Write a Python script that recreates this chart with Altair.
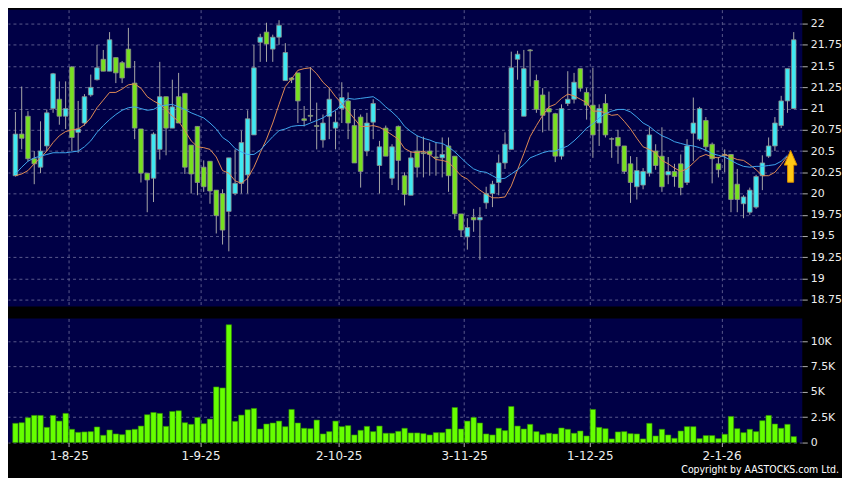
import altair as alt
import pandas as pd

# ---------------- data ----------------
month_starts = [9, 30, 52, 72, 92, 113]
month_labels = ["1-8-25", "1-9-25", "2-10-25", "3-11-25", "1-12-25", "2-1-26"]

open_ = [20.21, 20.70, 20.91, 20.41, 20.31, 20.56, 21.00, 21.11, 20.91, 21.49,
         20.72, 20.83, 21.16, 21.34, 21.58, 21.44, 21.60, 21.54, 21.70, 21.30,
         20.76, 20.24, 20.18, 20.52, 21.14, 20.77, 21.14, 21.18, 20.57, 20.79,
         20.31, 20.38, 20.04, 20.00, 19.79, 20.00, 20.12, 20.22, 20.69, 21.78,
         21.90, 21.70, 21.84, 21.33, 21.36, 21.42, 20.88, 20.92, 20.80, 20.63,
         20.91, 20.77, 21.00, 21.09, 20.80, 20.90, 20.50, 20.84, 20.33, 20.77,
         20.18, 20.79, 20.21, 19.98, 20.50, 20.48, 20.50, 20.43, 20.42, 20.56,
         20.44, 19.76, 19.49, 19.72, 19.69, 19.89, 20.00, 20.13, 20.36, 20.52,
         21.58, 20.91, 21.69, 21.33, 21.16, 21.00, 20.94, 20.44, 21.06, 21.11,
         21.47, 21.19, 21.04, 20.83, 21.06, 20.645, 20.66, 20.56, 20.35, 20.08,
         20.10, 20.24, 20.50, 20.44, 20.22, 20.26, 20.35, 20.13, 20.71, 20.64,
         20.86, 20.58, 20.35, 20.46, 20.46, 20.11, 19.88, 19.78, 19.84, 20.21,
         20.44, 20.56, 20.80, 21.09, 21.00]
high = [20.96, 21.26, 20.97, 20.50, 20.85, 20.99, 21.42, 21.32, 21.32, 21.50,
        21.09, 21.17, 21.40, 21.75, 21.69, 21.90, 21.60, 21.56, 21.95, 21.56,
        20.76, 20.24, 20.72, 21.55, 21.14, 21.34, 21.42, 21.18, 20.57, 20.79,
        20.39, 20.38, 20.04, 20.05, 20.42, 20.52, 20.74, 20.98, 21.75, 21.88,
        22.01, 21.87, 22.04, 21.77, 21.37, 21.42, 21.03, 21.49, 21.07, 20.93,
        21.24, 20.97, 21.31, 21.19, 20.99, 20.93, 20.95, 21.11, 20.62, 20.80,
        20.58, 20.80, 20.25, 20.50, 20.68, 20.67, 20.60, 20.60, 20.66, 20.66,
        20.44, 19.76, 19.71, 19.82, 19.84, 20.08, 20.15, 20.46, 20.72, 21.67,
        21.68, 21.69, 21.70, 21.40, 21.24, 21.20, 20.95, 21.05, 21.44, 21.42,
        21.47, 21.24, 21.48, 21.05, 21.17, 20.66, 20.75, 20.56, 20.44, 20.43,
        20.30, 20.78, 20.58, 20.78, 20.43, 20.35, 20.46, 20.64, 21.13, 21.02,
        20.90, 20.60, 20.43, 20.52, 20.46, 20.29, 19.98, 20.07, 20.22, 20.45,
        20.66, 20.90, 21.15, 21.47, 21.90]
low = [20.20, 20.52, 20.38, 20.11, 20.24, 20.50, 20.95, 20.81, 20.76, 20.50,
       20.48, 20.80, 21.14, 21.33, 21.44, 21.44, 21.30, 21.30, 21.48, 20.64,
       20.13, 19.78, 19.90, 20.40, 20.45, 20.77, 20.83, 20.23, 20.00, 19.98,
       20.02, 19.88, 19.53, 19.40, 19.32, 19.98, 20.00, 20.00, 20.69, 21.55,
       21.55, 21.55, 21.75, 21.33, 21.30, 20.83, 20.79, 20.85, 20.52, 20.54,
       20.64, 20.52, 20.83, 20.64, 20.36, 20.07, 20.44, 20.64, 20.00, 20.44,
       20.10, 20.04, 19.86, 19.98, 20.19, 20.19, 20.21, 20.21, 20.19, 20.02,
       19.70, 19.49, 19.34, 19.55, 19.22, 19.82, 19.84, 19.98, 20.29, 20.52,
       21.34, 20.91, 21.26, 20.95, 20.72, 20.74, 20.37, 20.40, 21.03, 21.06,
       21.20, 20.87, 20.42, 20.56, 20.66, 20.42, 20.35, 20.23, 19.89, 19.93,
       20.05, 20.20, 20.28, 20.02, 20.11, 20.08, 19.98, 20.10, 20.38, 20.62,
       20.50, 20.12, 20.19, 20.25, 19.78, 19.78, 19.71, 19.75, 19.82, 20.04,
       20.42, 20.50, 20.77, 20.95, 21.00]
close = [20.70, 20.65, 20.41, 20.35, 20.50, 20.95, 21.41, 20.91, 21.00, 20.66,
         20.76, 21.14, 21.25, 21.48, 21.44, 21.81, 21.42, 21.36, 21.48, 20.77,
         20.24, 20.16, 20.70, 21.14, 20.77, 21.02, 20.83, 20.31, 20.23, 20.13,
         20.08, 20.03, 19.74, 19.57, 20.42, 20.12, 20.60, 20.88, 21.48, 21.84,
         21.76, 21.84, 21.98, 21.66, 21.34, 21.09, 20.86, 20.91, 20.79, 20.83,
         21.11, 20.84, 21.13, 20.83, 20.36, 20.26, 20.83, 21.06, 20.55, 20.44,
         20.55, 20.39, 19.99, 20.42, 20.31, 20.47, 20.46, 20.42, 20.46, 20.21,
         19.76, 19.57, 19.60, 19.69, 19.72, 20.00, 20.11, 20.36, 20.58, 21.48,
         21.64, 21.47, 21.68, 20.99, 20.92, 20.96, 20.44, 21.00, 21.11, 21.31,
         21.24, 21.04, 20.69, 21.00, 20.69, 20.64, 20.56, 20.26, 20.13, 20.27,
         20.26, 20.69, 20.33, 20.08, 20.26, 20.20, 20.07, 20.56, 20.83, 21.00,
         20.55, 20.41, 20.28, 20.45, 19.93, 19.93, 19.96, 20.04, 20.20, 20.36,
         20.56, 20.83, 21.09, 21.47, 21.81]
volume_k = [1.90, 1.96, 2.45, 2.68, 2.68, 1.50, 2.68, 2.12, 2.88, 1.31,
            1.01, 1.05, 1.08, 1.54, 0.72, 1.24, 0.85, 0.78, 1.24, 1.31,
            1.63, 2.75, 2.97, 2.88, 1.60, 3.07, 3.14, 1.96, 1.80, 2.48,
            1.86, 2.32, 5.49, 5.39, 11.63, 2.09, 2.71, 3.24, 3.37, 1.34,
            1.83, 1.93, 2.12, 1.57, 3.27, 1.93, 1.41, 1.37, 2.22, 0.85,
            1.08, 2.12, 1.57, 1.67, 0.75, 1.21, 1.60, 1.08, 1.63, 0.92,
            0.92, 1.11, 1.41, 0.95, 0.95, 0.88, 0.75, 0.98, 0.98, 1.34,
            3.46, 1.34, 2.12, 2.48, 1.93, 0.85, 0.75, 1.41, 1.18, 3.56,
            1.63, 1.34, 1.80, 1.08, 0.78, 0.92, 0.85, 1.44, 1.31, 0.92,
            1.14, 0.65, 3.27, 1.50, 1.37, 0.36, 1.05, 1.08, 0.88, 0.85,
            0.36, 1.90, 0.65, 1.31, 0.75, 0.42, 1.14, 1.57, 1.57, 0.39,
            0.69, 0.69, 0.39, 0.82, 2.58, 1.37, 0.98, 1.31, 1.08, 2.16,
            2.68, 1.83, 1.41, 1.80, 0.59]
ma10 = [20.21, 20.23, 20.27, 20.35, 20.42, 20.50, 20.60, 20.68, 20.73, 20.75,
        20.76, 20.81, 20.89, 21.01, 21.10, 21.19, 21.19, 21.23, 21.28, 21.29,
        21.24, 21.14, 21.09, 21.05, 20.99, 20.91, 20.85, 20.74, 20.62, 20.55,
        20.54, 20.52, 20.43, 20.27, 20.24, 20.15, 20.12, 20.18, 20.31, 20.48,
        20.64, 20.83, 21.05, 21.26, 21.35, 21.45, 21.47, 21.48, 21.41, 21.31,
        21.24, 21.14, 21.06, 20.97, 20.88, 20.79, 20.79, 20.80, 20.78, 20.74,
        20.69, 20.64, 20.53, 20.49, 20.48, 20.50, 20.46, 20.40, 20.39, 20.37,
        20.29, 20.21, 20.17, 20.10, 20.04, 19.99, 19.95, 19.95, 19.96, 20.09,
        20.28, 20.47, 20.67, 20.80, 20.92, 21.02, 21.05, 21.12, 21.17, 21.15,
        21.11, 21.07, 20.97, 20.97, 20.95, 20.92, 20.93, 20.85, 20.76, 20.65,
        20.55, 20.52, 20.48, 20.39, 20.35, 20.30, 20.26, 20.29, 20.36, 20.43,
        20.46, 20.43, 20.42, 20.46, 20.43, 20.40, 20.39, 20.34, 20.28, 20.21,
        20.21, 20.25, 20.34, 20.44]
ma20 = [20.23, 20.31, 20.38, 20.42, 20.44, 20.46, 20.48, 20.48, 20.48, 20.49,
        20.50, 20.55, 20.62, 20.72, 20.80, 20.87, 20.93, 20.98, 21.01, 21.02,
        21.00, 20.98, 20.99, 21.03, 21.04, 21.05, 21.02, 20.99, 20.95, 20.92,
        20.89, 20.83, 20.76, 20.66, 20.61, 20.53, 20.49, 20.46, 20.46, 20.51,
        20.59, 20.67, 20.74, 20.76, 20.79, 20.80, 20.80, 20.83, 20.86, 20.89,
        20.94, 20.98, 21.05, 21.12, 21.11, 21.12, 21.13, 21.14, 21.09, 21.02,
        20.96, 20.89, 20.79, 20.73, 20.68, 20.65, 20.63, 20.60, 20.59, 20.55,
        20.49, 20.42, 20.35, 20.29, 20.26, 20.25, 20.21, 20.17, 20.18, 20.23,
        20.28, 20.34, 20.42, 20.45, 20.48, 20.50, 20.50, 20.53, 20.56, 20.62,
        20.69, 20.77, 20.82, 20.89, 20.94, 20.97, 20.99, 20.99, 20.96, 20.90,
        20.83, 20.79, 20.73, 20.68, 20.65, 20.61, 20.59, 20.57, 20.56, 20.54,
        20.51, 20.47, 20.45, 20.43, 20.39, 20.35, 20.32, 20.31, 20.32, 20.32,
        20.33, 20.34, 20.38, 20.45]
price_ticks = [18.75, 19.0, 19.25, 19.5, 19.75, 20.0, 20.25, 20.5, 20.75,
               21.0, 21.25, 21.5, 21.75, 22.0]
volume_ticks = [0, 2.5, 5, 7.5, 10]
arrow_index = [123.5]
arrow_price = [20.32]
copyright_text = ["Copyright by AASTOCKS.com Ltd."]

# ---------------- tables ----------------
n = len(close)
candles = pd.DataFrame({
    "i": list(range(n)), "open": open_, "high": high, "low": low,
    "close": close, "vol": volume_k,
    "dir": ["up" if c > o else "down" for o, c in zip(open_, close)],
})
ma_df = pd.DataFrame({"i": list(range(len(ma10))), "ma10": ma10, "ma20": ma20})
arrow_df = pd.DataFrame({"i": arrow_index, "p": arrow_price})
text_df = pd.DataFrame({"t": copyright_text})

grid_pos = [m - 0.5 for m in month_starts]
label_expr = "''"
for pos, lab in reversed(list(zip(grid_pos, month_labels))):
    label_expr = f"datum.value == {pos} ? '{lab}' : ({label_expr})"

# ---------------- style ----------------
NAVY = "#000046"
GRID = "#5a5a8c"
CYAN = "#3fe8f2"
GREEN = "#77e020"
VOLG = "#66ff00"
ORANGE = "#e08a55"
BLUE = "#3fa6ee"
FONT = "DejaVu Sans"

x_scale = alt.Scale(domain=[-0.39, 124.57], nice=False, zero=False)
price_scale = alt.Scale(domain=[18.67, 22.164], nice=False, zero=False)
vol_scale = alt.Scale(domain=[0, 12.25], nice=False, zero=True)

x_price_axis = alt.Axis(values=grid_pos, labels=False, ticks=False,
                        domain=False, grid=True)
y_price_axis = alt.Axis(orient="right", values=price_ticks,
                        labelExpr="format(datum.value, '.2~f')",
                        grid=True, tickSize=5, labelPadding=3,
                        labelFontSize=11, labelOverlap=False)


def px(field="i"):
    return alt.X(f"{field}:Q", scale=x_scale, title=None, axis=x_price_axis)


def py(field):
    return alt.Y(f"{field}:Q", scale=price_scale, title=None, axis=y_price_axis)


wicks = alt.Chart(candles).mark_rule(color="#a6a6a6", strokeWidth=1).encode(
    x=px(), y=py("low"), y2="high:Q")
bodies = alt.Chart(candles).mark_bar(size=4.6, stroke="#8e8e8e", strokeWidth=0.8).encode(
    x=px(), y=py("open"), y2="close:Q",
    color=alt.Color("dir:N", scale=alt.Scale(domain=["up", "down"], range=[CYAN, GREEN]),
                    legend=None),
)
line10 = alt.Chart(ma_df).mark_line(color=ORANGE, strokeWidth=1).encode(
    x=px(), y=py("ma10"))
line20 = alt.Chart(ma_df).mark_line(color=BLUE, strokeWidth=1).encode(
    x=px(), y=py("ma20"))
arrow_path = "M 0 -1 L 0.4 -0.08 L 0.19 -0.08 L 0.19 1 L -0.19 1 L -0.19 -0.08 L -0.4 -0.08 Z"
arrow = alt.Chart(arrow_df).mark_point(shape=arrow_path, size=1024, filled=True,
                                       fill="#ffc814", stroke="#d98c00",
                                       strokeWidth=1, opacity=1).encode(
    x=px(), y=py("p"))

price = alt.layer(wicks, bodies, line10, line20, arrow).properties(width=800, height=299)

vol_bars = alt.Chart(candles).mark_bar(size=5.4, color=VOLG, stroke="#2f9000",
                                       strokeWidth=0.6).encode(
    x=alt.X("i:Q", scale=x_scale, title=None,
            axis=alt.Axis(values=grid_pos, labelExpr=label_expr, grid=True,
                          ticks=True, tickSize=4, labelPadding=4, domain=False,
                          labelFontSize=12, labelFlush=False, labelOverlap=False,
                          labelBaseline="top")),
    y=alt.Y("vol:Q", scale=vol_scale, title=None,
            axis=alt.Axis(orient="right", values=volume_ticks, grid=True,
                          labelExpr="datum.value == 0 ? '0' : datum.value + 'K'",
                          tickSize=5, labelPadding=3, labelFontSize=11,
                          labelOverlap=False)),
)
copyright_mark = alt.Chart(text_df).mark_text(
    align="right", baseline="middle", fontSize=10.5, color="#ffffff",
    font="DejaVu Sans Condensed, DejaVu Sans").encode(
    text="t:N", x=alt.value(837), y=alt.value(153))

volume = alt.layer(vol_bars, copyright_mark).properties(width=800, height=125)

chart = alt.vconcat(price, volume, spacing=12, bounds="flush").properties(
    padding=0, background="#000000"
).configure_view(fill=NAVY, stroke=None).configure_axis(
    gridColor=GRID, gridDash=[3, 3], gridWidth=1, gridOpacity=1,
    labelColor="#eeeeee", labelFont=FONT, tickColor="#b0b0b0", domain=False,
)

chart.save("out.html", embed_options={"renderer": "svg", "actions": False})
